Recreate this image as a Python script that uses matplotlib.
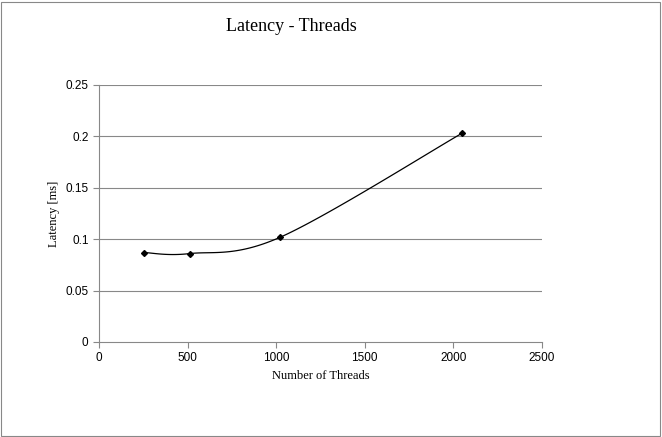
import matplotlib
matplotlib.use("Agg")
import matplotlib.pyplot as plt
import numpy as np
from matplotlib.patches import Rectangle

threads = [256, 512, 1024, 2048]
latency = [0.087, 0.086, 0.102, 0.203]


def smooth(xs, ys, n=40):
    # Catmull-Rom style curve similar to Excel's smoothed line
    P = np.column_stack([xs, ys]).astype(float)
    P = np.vstack([P[0], P, P[-1]])
    out = []
    for i in range(1, len(P) - 2):
        p0, p1, p2, p3 = P[i - 1], P[i], P[i + 1], P[i + 2]
        t = np.linspace(0, 1, n)[:, None]
        c = 0.5 * ((2 * p1) + (-p0 + p2) * t + (2 * p0 - 5 * p1 + 4 * p2 - p3) * t ** 2
                   + (-p0 + 3 * p1 - 3 * p2 + p3) * t ** 3)
        out.append(c)
    c = np.vstack(out)
    return c[:, 0], c[:, 1]


fig = plt.figure(figsize=(6.62, 4.37), dpi=100)
fig.patches.append(Rectangle((0.002, 0.003), 0.995, 0.993, transform=fig.transFigure,
                             fill=False, ec="#888888", lw=0.8))
ax = fig.add_axes([0.1495, 0.2174, 0.6692, 0.5881])
for y in [0.05, 0.1, 0.15, 0.2, 0.25]:
    ax.axhline(y, color="#888888", lw=0.8, zorder=0)
sx, sy = smooth(threads, latency)
ax.plot(sx, sy, color="black", lw=0.9)
ax.plot(threads, latency, "D", color="black", ms=3)
ax.set_xlim(0, 2500)
ax.set_ylim(0, 0.25)
ax.set_xticks([0, 500, 1000, 1500, 2000, 2500])
ax.set_xticklabels(["0", "500", "1000", "1500", "2000", "2500"])
ax.set_yticks([0, 0.05, 0.1, 0.15, 0.2, 0.25])
ax.set_yticklabels(["0", "0.05", "0.1", "0.15", "0.2", "0.25"])
for s in ["top", "right"]:
    ax.spines[s].set_visible(False)
ax.spines["left"].set_color("#888888")
ax.spines["bottom"].set_color("#888888")
ax.tick_params(direction="out", length=4, color="#888888", labelsize=8.5)
for lbl in ax.get_xticklabels() + ax.get_yticklabels():
    lbl.set_family("Liberation Sans")
ax.set_xlabel("Number of Threads", family="Liberation Serif", fontsize=9)
ax.set_ylabel("Latency [ms]", family="Liberation Serif", fontsize=9)
fig.text(0.44, 0.94, "Latency - Threads", ha="center", va="center",
         family="Liberation Serif", fontsize=13)
fig.savefig("out.png", dpi=100)
